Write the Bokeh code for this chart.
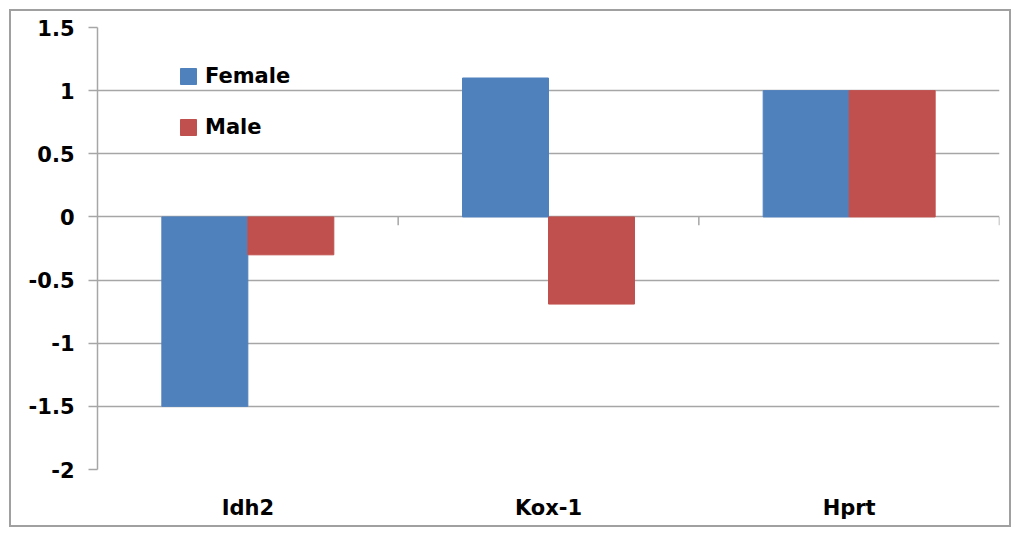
from bokeh.plotting import figure
from bokeh.models import FactorRange, Range1d, FixedTicker, Legend, LegendItem, ColumnDataSource
from bokeh.transform import dodge
from bokeh.embed import file_html
from bokeh.resources import INLINE

categories = ["Idh2", "Kox-1", "Hprt"]
female = [-1.5, 1.1, 1.0]
male = [-0.3, -0.69, 1.0]
y_ticks = [-2, -1.5, -1, -0.5, 0, 0.5, 1, 1.5]
y_tick_labels = ["-2", "-1.5", "-1", "-0.5", "0", "0.5", "1", "1.5"]

FONT = "DejaVu Sans"
FS = "21px"
GRID = "#a6a6a6"
BLUE = "#4F81BD"
RED = "#C0504D"

src = ColumnDataSource(dict(cat=categories, female=female, male=male))

W, H = 1002, 518
p = figure(width=W, height=H, x_range=FactorRange(*categories),
           y_range=Range1d(-2, 1.5), output_backend="svg", toolbar_location=None,
           min_border_left=86, min_border_right=14, min_border_top=16, min_border_bottom=60)
# outer chart-area border
p.styles = {"border": "2px solid #a0a0a0", "margin": "9px 0 0 9px"}
p.outline_line_color = None
p.background_fill_color = "white"
p.border_fill_color = "white"

bw = 0.286
r_f = p.vbar(x=dodge("cat", -bw / 2, range=p.x_range), top="female", bottom=0, width=bw,
             source=src, fill_color=BLUE, line_color=BLUE)
r_m = p.vbar(x=dodge("cat", bw / 2, range=p.x_range), top="male", bottom=0, width=bw,
             source=src, fill_color=RED, line_color=RED)

# category divider ticks on the zero line
bounds = list(range(1, len(categories) + 1))
p.segment(x0=bounds, y0=[0] * len(bounds), x1=bounds, y1=[-0.065] * len(bounds),
          line_color=GRID, line_width=1.5)

ticker = FixedTicker(ticks=y_ticks)
p.yaxis.ticker = ticker
p.yaxis.major_label_overrides = {t: l for t, l in zip(y_ticks, y_tick_labels)}
p.yaxis.minor_tick_line_color = None
p.yaxis.major_tick_in = 0
p.yaxis.major_tick_out = 9
p.yaxis.major_tick_line_color = GRID
p.yaxis.major_tick_line_width = 1.5
p.yaxis.axis_line_color = GRID
p.yaxis.axis_line_width = 1.5
p.yaxis.major_label_standoff = 14
p.yaxis.major_label_text_font = FONT
p.yaxis.major_label_text_font_size = FS
p.yaxis.major_label_text_font_style = "bold"
p.yaxis.major_label_text_color = "black"

p.ygrid.ticker = ticker
p.ygrid.grid_line_color = GRID
p.ygrid.grid_line_width = 1.5
p.xgrid.grid_line_color = None

p.xaxis.axis_line_color = None
p.xaxis.major_tick_line_color = None
p.xaxis.major_tick_out = 0
p.xaxis.major_tick_in = 0
p.xaxis.major_label_standoff = 26
p.xaxis.major_label_text_font = FONT
p.xaxis.major_label_text_font_size = FS
p.xaxis.major_label_text_font_style = "bold"
p.xaxis.major_label_text_color = "black"

legend = Legend(items=[LegendItem(label="Female", renderers=[r_f]),
                       LegendItem(label="Male", renderers=[r_m])],
                location=(81, 330), orientation="vertical",
                glyph_width=20, glyph_height=20, spacing=27, padding=0, margin=0,
                label_standoff=7, label_height=20, label_text_color="black",
                label_text_font=FONT, label_text_font_size=FS, label_text_font_style="bold",
                border_line_color=None, background_fill_alpha=0)
p.add_layout(legend)

open("out.html", "w").write(file_html(p, INLINE))
